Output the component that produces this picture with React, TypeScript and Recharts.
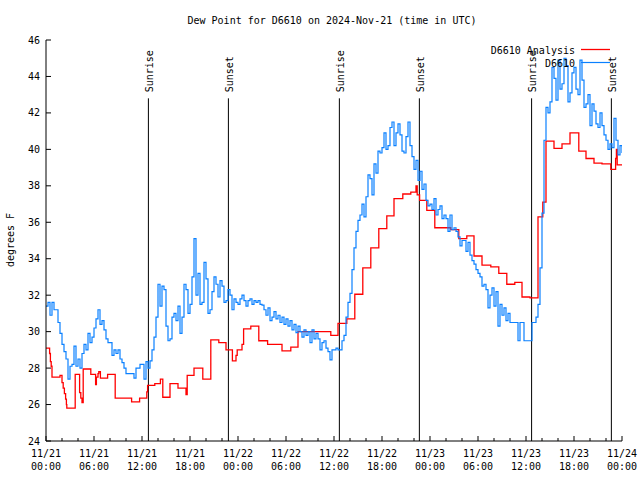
import { LineChart, Line, XAxis, YAxis, ReferenceLine } from "recharts";

const FONT = '"DejaVu Sans Mono", monospace';
const RED = "#ff0000";
const BLUE = "#0a80ff";

// D6610 observations, one value every 15 minutes starting 11/21 00:00 UTC
const obsStep = 0.25;
const obsValues = [
  31.4, 31.6, 30.9, 31.6, 31.2, 31.2, 30.5, 29.9, 29.3, 28.9, 28.5, 27.4,
  28.1, 28.2, 29.2, 28.1, 28.5, 28.0, 28.8, 29.3, 29.0, 29.9, 29.4, 29.7,
  30.2, 30.7, 31.2, 30.4, 30.6, 30.1, 29.6, 29.4, 29.4, 28.7, 29.0, 28.8,
  29.0, 28.5, 28.3, 28.0, 27.7, 27.7, 27.7, 27.7, 27.45, 28.0, 28.0, 28.2,
  28.2, 27.4, 28.35, 28.0, 28.4, 29.0, 29.7, 30.8, 32.6, 31.4, 32.5, 32.3,
  30.3, 29.5, 29.6, 30.8, 31.0, 30.6, 31.4, 29.9, 30.8, 32.6, 32.3, 31.0,
  31.5, 33.0, 35.1, 32.0, 33.2, 31.5, 31.6, 33.8, 32.9, 31.0, 31.2, 32.2,
  33.0, 32.6, 31.9, 32.8, 32.5, 31.6, 31.7, 32.3, 32.0, 31.2, 31.8, 31.6,
  31.5, 31.8, 32.0, 31.7, 31.4, 31.7, 31.8, 31.5, 31.7, 31.6, 31.7, 31.5,
  31.45, 31.2, 30.9, 31.3, 30.6, 30.8, 31.1, 30.7, 30.9, 30.5, 30.8, 30.4,
  30.7, 30.3, 30.6, 30.1, 30.4, 29.95, 30.3, 30.0, 29.7, 30.1, 29.8, 30.0,
  29.4, 30.1, 29.6, 29.9, 29.6, 29.0, 29.4, 29.5, 29.1, 28.9, 28.45, 29.0,
  29.0, 29.1, 29.0, 29.0, 29.5, 29.8, 30.8, 31.6, 32.1, 33.4, 34.6, 35.5,
  36.1, 36.4, 37.0, 36.3, 37.4, 38.6, 38.4, 37.5, 39.2, 38.7, 39.9, 39.8,
  40.1, 40.9, 40.0, 40.2, 41.2, 41.5, 40.2, 40.9, 41.4, 40.8, 39.9, 39.8,
  40.7, 41.5, 40.2, 39.6, 38.9, 39.4, 38.3, 38.8, 37.8, 38.1, 37.2, 36.9,
  37.0, 36.7, 37.3, 36.4, 36.7, 36.9, 36.2, 36.4, 36.2, 35.5, 36.4, 35.6,
  35.7, 35.5, 35.2, 34.7, 35.0, 35.0, 34.4, 34.9, 34.2, 33.9, 33.7, 33.4,
  33.2, 33.0, 32.5, 32.6, 32.3, 31.3, 32.0, 32.4, 31.4, 32.2, 30.3, 31.5,
  30.9, 31.3, 30.6, 31.0, 30.5, 30.5, 30.5, 30.5, 29.5, 30.5, 30.5, 29.5,
  29.5, 29.5, 29.5, 30.5, 30.5, 30.8, 31.5, 33.5, 36.5, 40.5, 42.3, 42.0,
  42.6, 44.5, 43.9, 42.7, 44.9, 43.3, 43.6, 45.0, 44.6, 42.6, 43.1, 44.2,
  44.5, 43.3, 43.0, 44.9, 43.8, 42.3, 42.5, 43.0, 41.3, 42.5, 42.1, 41.4,
  41.2, 42.0, 41.3, 40.8, 40.5, 40.0, 40.3, 40.1, 41.7, 40.5, 39.7, 40.2,
  39.8,
];

// D6610 Analysis: time (hours from 11/21 00:00) and value at each step
const analysisTimes = [
  0, 0.45, 0.55, 0.65, 0.75, 1.75, 2.0, 2.15, 2.3, 2.45, 2.55, 2.6, 3.65, 4.2,
  4.35, 4.5, 4.65, 5.6, 6.2, 6.3, 6.5, 6.6, 6.8, 7.7, 8.65, 10.7, 11.7, 12.6,
  12.7, 13.6, 14.3, 14.6, 15.5, 16.5, 17.5, 17.65, 18.5, 19.6, 20.6, 21.6,
  22.5, 23.3, 23.75, 23.9, 24.5, 24.7, 25.6, 26.6, 27.7, 29.5, 30.6, 31.5,
  35.6, 36.5, 37.6, 38.6, 39.6, 40.6, 41.6, 42.6, 43.5, 44.6, 45.6, 46.25,
  46.4, 46.7, 47.6, 48.6, 50.6, 51.6, 52.6, 53.5, 54.5, 55.6, 56.6, 57.6,
  58.6, 59.5, 60.5, 61.5, 62.1, 62.5, 63.5, 64.5, 65.5, 66.6, 67.5, 68.5,
  69.5, 70.6, 71.2, 71.3, 71.4, 72,
];
const analysisValues = [
  29.1, 28.8, 28.35, 28.1, 27.5, 27.6, 27.2, 26.9, 26.6, 26.3, 26.0, 25.8,
  27.65, 26.65, 26.35, 26.1, 27.95, 27.65, 27.1, 27.5, 27.7, 27.8, 27.45,
  27.65, 26.35, 26.15, 26.35, 26.7, 27.05, 27.15, 27.4, 26.4, 27.15, 26.9,
  26.55, 27.6, 28.0, 27.4, 29.55, 29.4, 29.0, 28.4, 28.7, 29.0, 29.3, 30.15,
  30.3, 29.5, 29.3, 28.95, 29.15, 30.0, 29.8, 30.45, 30.7, 32.05, 33.5, 34.6,
  35.65, 36.35, 37.3, 37.55, 37.65, 38.0, 37.5, 37.2, 36.65, 35.7, 35.6, 35.1,
  35.25, 34.15, 33.65, 33.55, 33.2, 32.6, 32.7, 31.9, 31.85, 36.3, 37.1,
  40.45, 40.05, 40.3, 40.9, 39.9, 39.5, 39.25, 39.2, 38.9, 39.5, 40.0, 39.15,
  39.15,
];

const sunTimes = [12.8, 22.8, 36.67, 46.67, 60.7, 70.67];
const sunNames = ["Sunrise", "Sunset", "Sunrise", "Sunset", "Sunrise", "Sunset"];

const xTicks = [
  0, 2, 4, 6, 8, 10, 12, 14, 16, 18, 20, 22, 24, 26, 28, 30, 32, 34, 36, 38,
  40, 42, 44, 46, 48, 50, 52, 54, 56, 58, 60, 62, 64, 66, 68, 70, 72,
];
const xTickDates = [
  "11/21", "11/21", "11/21", "11/21", "11/22", "11/22", "11/22",
  "11/22", "11/23", "11/23", "11/23", "11/23", "11/24",
];
const xTickTimes = [
  "00:00", "06:00", "12:00", "18:00", "00:00", "06:00", "12:00",
  "18:00", "00:00", "06:00", "12:00", "18:00", "00:00",
];
const yTicks = [24, 26, 28, 30, 32, 34, 36, 38, 40, 42, 44, 46];

const obsData = obsValues.map((v, i) => ({ t: i * obsStep, obs: v }));
const analysisData = analysisTimes.map((t, i) => ({ t, analysis: analysisValues[i] }));

const BottomTick = ({ x, y, payload }: any) => {
  const v = payload.value;
  const major = v % 6 === 0;
  const i = v / 6;
  return (
    <g>
      <line x1={x} x2={x} y1={y} y2={y - (major ? 5 : 3)} stroke="#000" />
      {major && (
        <>
          <text x={x} y={y + 12} textAnchor="middle" dominantBaseline="central" fontSize={10} fontFamily={FONT} fill="#000">
            {xTickDates[i]}
          </text>
          <text x={x} y={y + 25} textAnchor="middle" dominantBaseline="central" fontSize={10} fontFamily={FONT} fill="#000">
            {xTickTimes[i]}
          </text>
        </>
      )}
    </g>
  );
};

const TopTick = ({ x, y, payload }: any) => {
  const major = payload.value % 6 === 0;
  return <line x1={x} x2={x} y1={y} y2={y + (major ? 5 : 3)} stroke="#000" />;
};

const LeftTick = ({ x, y, payload }: any) => (
  <g>
    <line x1={x} x2={x + 5} y1={y} y2={y} stroke="#000" />
    <text x={x - 6} y={y} textAnchor="end" dominantBaseline="central" fontSize={10} fontFamily={FONT} fill="#000">
      {payload.value}
    </text>
  </g>
);

const RightTick = ({ x, y }: any) => <line x1={x} x2={x - 5} y1={y} y2={y} stroke="#000" />;

const sunLabel = (name: string) => (p: any) => {
  const vb = p.viewBox || {};
  const lx = vb.x + 1;
  const ly = vb.y - 6;
  return (
    <text
      x={lx}
      y={ly}
      transform={`rotate(-90 ${lx} ${ly})`}
      textAnchor="start"
      dominantBaseline="central"
      fontSize={10}
      fontFamily={FONT}
      fill="#000"
    >
      {name}
    </text>
  );
};

export default function App() {
  return (
    <div style={{ position: "relative", width: 640, height: 480 }}>
      <style>{"body{margin:0}"}</style>
      <LineChart width={640} height={480} margin={{ top: 40, right: 18, bottom: 0, left: 0 }}>
        <XAxis
          dataKey="t"
          type="number"
          domain={[0, 72]}
          ticks={xTicks}
          interval={0}
          height={39}
          tickSize={0}
          tickMargin={0}
          tickLine={false}
          axisLine={{ stroke: "#000" }}
          tick={(p: any) => <BottomTick {...p} />}
          allowDataOverflow
        />
        <XAxis
          xAxisId="top"
          orientation="top"
          dataKey="t"
          type="number"
          domain={[0, 72]}
          ticks={xTicks}
          interval={0}
          height={0}
          tickSize={0}
          tickMargin={0}
          tickLine={false}
          axisLine={{ stroke: "#000" }}
          tick={(p: any) => <TopTick {...p} />}
        />
        <YAxis
          type="number"
          domain={[24, 46]}
          ticks={yTicks}
          interval={0}
          width={46}
          tickSize={0}
          tickMargin={0}
          tickLine={false}
          axisLine={{ stroke: "#000" }}
          tick={(p: any) => <LeftTick {...p} />}
          allowDataOverflow
        />
        <YAxis
          yAxisId="right"
          orientation="right"
          type="number"
          domain={[24, 46]}
          ticks={yTicks}
          interval={0}
          width={0}
          tickSize={0}
          tickMargin={0}
          tickLine={false}
          axisLine={{ stroke: "#000" }}
          tick={(p: any) => <RightTick {...p} />}
        />
        {sunTimes.map((t, i) => (
          <ReferenceLine
            key={i}
            segment={[{ x: t, y: 24 }, { x: t, y: 42.8 }]}
            stroke="#000"
            strokeWidth={1}
            label={{ content: sunLabel(sunNames[i]) }}
          />
        ))}
        <Line
          data={analysisData}
          dataKey="analysis"
          type="stepAfter"
          stroke={RED}
          strokeWidth={1.3}
          dot={false}
          isAnimationActive={false}
        />
        <Line
          data={obsData}
          dataKey="obs"
          type="stepAfter"
          stroke={BLUE}
          strokeWidth={1.2}
          dot={false}
          isAnimationActive={false}
        />
      </LineChart>
      <svg width={640} height={480} style={{ position: "absolute", left: 0, top: 0, pointerEvents: "none" }}>
        <text x={332} y={20} textAnchor="middle" dominantBaseline="central" fontSize={10} fontFamily={FONT} fill="#000">
          Dew Point for D6610 on 2024-Nov-21 (time in UTC)
        </text>
        <text
          x={10}
          y={240}
          transform="rotate(-90 10 240)"
          textAnchor="middle"
          dominantBaseline="central"
          fontSize={10}
          fontFamily={FONT}
          fill="#000"
        >
          degrees F
        </text>
        <text x={575} y={50} textAnchor="end" dominantBaseline="central" fontSize={10} fontFamily={FONT} fill="#000">
          D6610 Analysis
        </text>
        <line x1={581} x2={610} y1={49.5} y2={49.5} stroke={RED} strokeWidth={1.3} />
        <text x={575} y={63} textAnchor="end" dominantBaseline="central" fontSize={10} fontFamily={FONT} fill="#000">
          D6610
        </text>
        <line x1={581} x2={610} y1={62.5} y2={62.5} stroke={BLUE} strokeWidth={1.2} />
      </svg>
    </div>
  );
}
